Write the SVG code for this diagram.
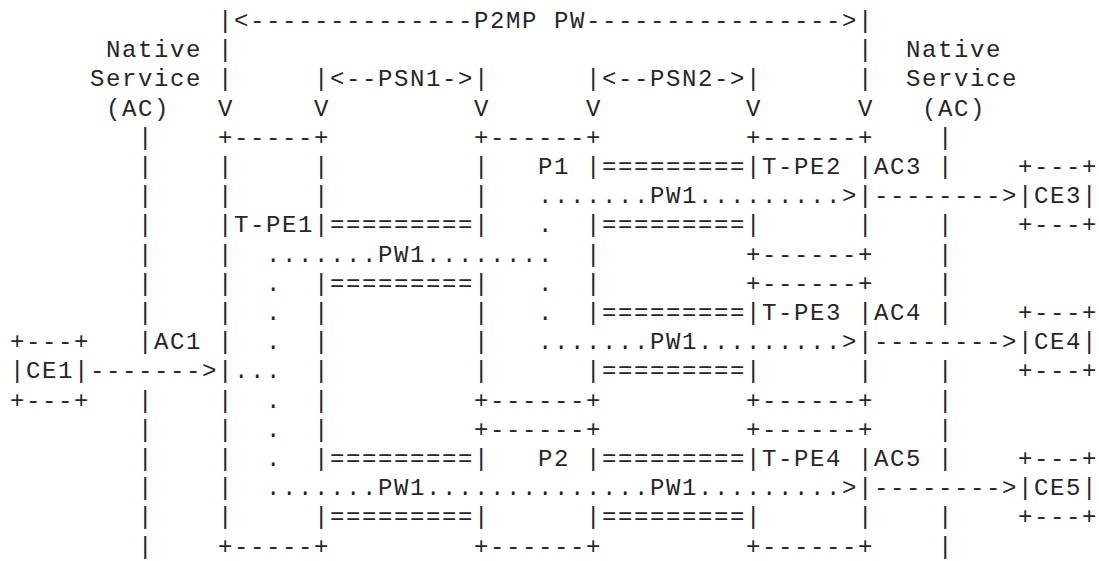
<svg xmlns="http://www.w3.org/2000/svg" width="1099" height="561" viewBox="0 0 1099 561" xml:space="preserve">
<style>
text{font-family:"Liberation Mono","DejaVu Sans Mono",monospace;font-size:24px;letter-spacing:1.6px;fill:#262626;white-space:pre}
</style>
<rect width="1099" height="561" fill="#ffffff"/>
<g id="labels">
<text x="106" y="57.2">Native</text>
<text x="90" y="86.4">Service</text>
<text x="106" y="115.6">(AC)</text>
<text x="906" y="57.2">Native</text>
<text x="906" y="86.4">Service</text>
<text x="922" y="115.6">(AC)</text>
<text x="154" y="349.2">AC1</text>
<text x="874" y="174">AC3</text>
<text x="874" y="320">AC4</text>
<text x="874" y="466">AC5</text>
</g>
<g id="ce1">
<text x="10" y="349.2">+---+</text>
<text x="10" y="378.4">|CE1|</text>
<text x="10" y="407.6">+---+</text>
</g>
<g id="ce3">
<text x="1018" y="174">+---+</text>
<text x="1018" y="203.2">|CE3|</text>
<text x="1018" y="232.4">+---+</text>
</g>
<g id="ce4">
<text x="1018" y="320">+---+</text>
<text x="1018" y="349.2">|CE4|</text>
<text x="1018" y="378.4">+---+</text>
</g>
<g id="ce5">
<text x="1018" y="466">+---+</text>
<text x="1018" y="495.2">|CE5|</text>
<text x="1018" y="524.4">+---+</text>
</g>
<g id="tpe1">
<text x="218" y="144.8">+-----+</text>
<text x="218" y="174">|     |</text>
<text x="218" y="203.2">|     |</text>
<text x="218" y="232.4">|T-PE1|</text>
<text x="218" y="261.6">|</text>
<text x="218" y="290.8">|</text><text x="314" y="290.8">|</text>
<text x="218" y="320">|</text><text x="314" y="320">|</text>
<text x="218" y="349.2">|</text><text x="314" y="349.2">|</text>
<text x="218" y="378.4">|</text><text x="314" y="378.4">|</text>
<text x="218" y="407.6">|</text><text x="314" y="407.6">|</text>
<text x="218" y="436.8">|</text><text x="314" y="436.8">|</text>
<text x="218" y="466">|</text><text x="314" y="466">|</text>
<text x="218" y="495.2">|</text>
<text x="218" y="524.4">|     |</text>
<text x="218" y="553.6">+-----+</text>
</g>
<g id="p1">
<text x="474" y="144.8">+------+</text>
<text x="474" y="174">|   P1 |</text>
<text x="474" y="203.2">|</text>
<text x="474" y="232.4">|</text><text x="586" y="232.4">|</text>
<text x="586" y="261.6">|</text>
<text x="474" y="290.8">|</text><text x="586" y="290.8">|</text>
<text x="474" y="320">|</text><text x="586" y="320">|</text>
<text x="474" y="349.2">|</text>
<text x="474" y="378.4">|      |</text>
<text x="474" y="407.6">+------+</text>
</g>
<g id="p2">
<text x="474" y="436.8">+------+</text>
<text x="474" y="466">|   P2 |</text>
<text x="474" y="524.4">|      |</text>
<text x="474" y="553.6">+------+</text>
</g>
<g id="tpe2">
<text x="746" y="144.8">+------+</text>
<text x="746" y="174">|T-PE2 |</text>
<text x="858" y="203.2">|</text>
<text x="746" y="232.4">|      |</text>
<text x="746" y="261.6">+------+</text>
</g>
<g id="tpe3">
<text x="746" y="290.8">+------+</text>
<text x="746" y="320">|T-PE3 |</text>
<text x="858" y="349.2">|</text>
<text x="746" y="378.4">|      |</text>
<text x="746" y="407.6">+------+</text>
</g>
<g id="tpe4">
<text x="746" y="436.8">+------+</text>
<text x="746" y="466">|T-PE4 |</text>
<text x="858" y="495.2">|</text>
<text x="746" y="524.4">|      |</text>
<text x="746" y="553.6">+------+</text>
</g>
<g id="connectors">
<text x="218" y="28">|&lt;--------------P2MP PW----------------&gt;|</text>
<text x="218" y="57.2">|</text>
<text x="858" y="57.2">|</text>
<text x="218" y="86.4">|</text>
<text x="314" y="86.4">|&lt;--PSN1-&gt;|</text>
<text x="586" y="86.4">|&lt;--PSN2-&gt;|</text>
<text x="858" y="86.4">|</text>
<text x="218" y="115.6">V</text>
<text x="314" y="115.6">V</text>
<text x="474" y="115.6">V</text>
<text x="586" y="115.6">V</text>
<text x="746" y="115.6">V</text>
<text x="858" y="115.6">V</text>
<!-- left AC line -->
<text x="138" y="144.8">|</text>
<text x="138" y="174">|</text>
<text x="138" y="203.2">|</text>
<text x="138" y="232.4">|</text>
<text x="138" y="261.6">|</text>
<text x="138" y="290.8">|</text>
<text x="138" y="320">|</text>
<text x="138" y="349.2">|</text>
<text x="138" y="407.6">|</text>
<text x="138" y="436.8">|</text>
<text x="138" y="466">|</text>
<text x="138" y="495.2">|</text>
<text x="138" y="524.4">|</text>
<text x="138" y="553.6">|</text>
<!-- right AC line -->
<text x="938" y="144.8">|</text>
<text x="938" y="174">|</text>
<text x="938" y="232.4">|</text>
<text x="938" y="261.6">|</text>
<text x="938" y="290.8">|</text>
<text x="938" y="320">|</text>
<text x="938" y="378.4">|</text>
<text x="938" y="407.6">|</text>
<text x="938" y="436.8">|</text>
<text x="938" y="466">|</text>
<text x="938" y="524.4">|</text>
<text x="938" y="553.6">|</text>
<!-- attachment circuits -->
<text x="90" y="378.4">-------&gt;</text>
<text x="874" y="203.2">--------&gt;</text>
<text x="874" y="349.2">--------&gt;</text>
<text x="874" y="495.2">--------&gt;</text>
<!-- PSN tunnels -->
<text x="330" y="232.4">=========</text>
<text x="330" y="290.8">=========</text>
<text x="330" y="466">=========</text>
<text x="330" y="524.4">=========</text>
<text x="602" y="174">=========</text>
<text x="602" y="232.4">=========</text>
<text x="602" y="320">=========</text>
<text x="602" y="378.4">=========</text>
<text x="602" y="466">=========</text>
<text x="602" y="524.4">=========</text>
<!-- PW1 paths -->
<text x="538" y="203.2">.......PW1.........&gt;</text>
<text x="538" y="349.2">.......PW1.........&gt;</text>
<text x="266" y="261.6">.......PW1........</text>
<text x="266" y="495.2">.......PW1..............PW1.........&gt;</text>
<text x="234" y="378.4">...</text>
<text x="266" y="290.8">.</text>
<text x="266" y="320">.</text>
<text x="266" y="349.2">.</text>
<text x="266" y="407.6">.</text>
<text x="266" y="436.8">.</text>
<text x="266" y="466">.</text>
<text x="538" y="232.4">.</text>
<text x="538" y="290.8">.</text>
<text x="538" y="320">.</text>
</g>
</svg>
